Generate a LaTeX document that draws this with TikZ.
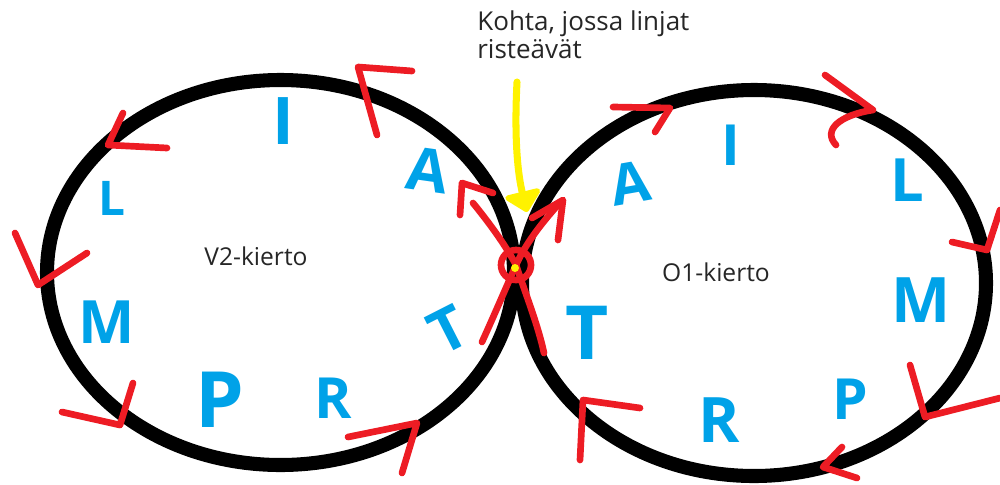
\documentclass[tikz,border=0pt]{standalone}
\usepackage{fontspec}
\setmainfont{Open Sans}
\usepackage{tikz}
\usetikzlibrary{arrows.meta}
\definecolor{paintred}{HTML}{ED1C24}
\definecolor{paintblue}{HTML}{00A2E8}
\definecolor{paintyellow}{HTML}{FFF200}
\definecolor{labelgray}{HTML}{262626}
\tikzset{
  loopline/.style={draw=black,line width=8pt},
  letterbox/.style={text=paintblue,font=\fontsize{34}{34}\selectfont\bfseries,inner sep=0pt},
  redmark/.style={draw=paintred,line width=3.8pt,line cap=round,line join=round},
  looplabel/.style={text=labelgray,font=\fontsize{14}{16}\selectfont,inner sep=0pt},
  crossnote/.style={text=labelgray,font=\fontsize{14.8}{16}\selectfont,align=left,inner sep=0pt},
  yellowarrow/.style={draw=paintyellow,line width=4pt,line cap=round,
    -{Triangle[width=0.84cm,length=0.44cm,round]}}
}

\begin{document}
\begin{tikzpicture}[x=0.02cm,y=-0.02cm]
  \useasboundingbox (0,0) rectangle (1000,484);
  \coordinate (v2center) at (280.5,272.5);
  \coordinate (o1center) at (754,283);
  \coordinate (cross) at (516,265);
  % the two loops
  \draw[loopline] (v2center) ellipse [x radius=233.5,y radius=192.5];
  \draw[loopline] (o1center) ellipse [x radius=232,y radius=193];
  % labels
  \node[looplabel] (v2label) at (256,256) {V2-kierto};
  \node[looplabel] (o1label) at (716,272) {O1-kierto};
  \node[crossnote,anchor=north west] (crossnote) at (477,10)
    {Kohta, jossa linjat\\risteävät};
  % pointer to the crossing
  \coordinate (pointerstart) at (517,82);
  \coordinate (pointertip) at (527,212);
  \draw[yellowarrow] (pointerstart) .. controls (514,140) and (518,175) .. (pointertip);
  % letters of the V2 loop
  \foreach \txt/\px/\py/\ang/\sc [count=\i] in
    {I/283/121/0/1.1, A/428/170/-8/1, L/112/198/0/0.8, M/107/322/0/1,
     P/220/400/0/1.3, R/333/398/0/0.95, T/448/330/27/1}
    \node[letterbox,rotate=\ang,scale=\sc] (v2letter\i) at (\px,\py) {\txt};
  % letters of the O1 loop
  \foreach \txt/\px/\py/\ang/\sc [count=\i] in
    {I/731/145/0/0.95, A/630/183/10/0.95, L/907/180/0/1, M/921/300/0/1.05,
     P/850/399/0/0.95, R/719/420/0/1.05, T/587/333/0/1.25}
    \node[letterbox,rotate=\ang,scale=\sc] (o1letter\i) at (\px,\py) {\txt};
  % direction marks
  \foreach \ax/\ay/\bx/\by/\cx/\cy in
    {377/135/358/67/412/71, 123/113/108/145/167/148, 15/233/38/285/87/253,
     133/383/120/425/62/412, 348/437/417/423/402/473,
     613/107/670/108/655/132, 952/242/987/250/1000/210,
     910/365/925/417/1000/398, 842/447/823/467/857/478,
     580/460/583/400/640/408}
    \draw[redmark] (\ax,\ay) -- (\bx,\by) -- (\cx,\cy);
  \draw[redmark] (825,75) -- (873,110) .. controls (840,115) and (822,130) .. (836,145);
  % crossing lines
  \draw[redmark] (473,203) .. controls (495,230) and (508,250) .. (cross)
    .. controls (526,295) and (538,325) .. (544,353);
  \draw[redmark] (557,206) .. controls (540,225) and (525,245) .. (cross)
    .. controls (505,290) and (492,320) .. (482,342);
  \draw[redmark] (460,215) -- (462,183) -- (493,193);
  \draw[redmark] (532,218) -- (563,200) -- (558,240);
  \draw[redmark] (cross) circle [radius=15];
  \fill[paintyellow] (515,268) circle [radius=4];
\end{tikzpicture}
\end{document}
